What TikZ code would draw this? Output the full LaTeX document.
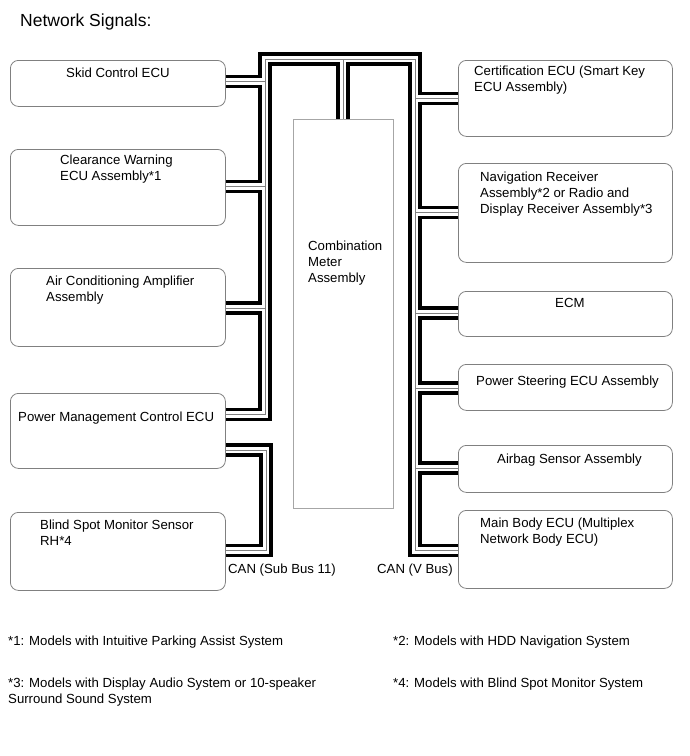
\documentclass[tikz,border=0pt]{standalone}
\usepackage{fontspec}
\setmainfont{Liberation Sans}
\usepackage{tikz}

\tikzset{
  ecu/.style={draw=gray, rounded corners=8pt, line width=0.8pt, anchor=north west, inner sep=0pt},
  lbl/.style={anchor=base west, inner sep=0pt, font=\fontsize{13.2}{16}\selectfont, align=left},
}

\begin{document}
\begin{tikzpicture}[x=1pt,y=-1pt]
    \useasboundingbox (0,0) rectangle (689,756);
    \node[lbl, font=\fontsize{17.5}{20}\selectfont] (title) at (20,26) {Network Signals:};
    % left column
    \node[ecu, minimum width=215pt, minimum height=46pt] (skid) at (10,60) {};
    \node[ecu, minimum width=215pt, minimum height=76pt] (clear) at (10,149) {};
    \node[ecu, minimum width=215pt, minimum height=78pt] (aircon) at (10,268) {};
    \node[ecu, minimum width=215pt, minimum height=75pt] (pmecu) at (10,393) {};
    \node[ecu, minimum width=215pt, minimum height=78pt] (bsm) at (10,512) {};
    % right column
    \node[ecu, minimum width=214pt, minimum height=76pt] (cert) at (458,60) {};
    \node[ecu, minimum width=214pt, minimum height=99pt] (navi) at (458,163) {};
    \node[ecu, minimum width=214pt, minimum height=45pt] (ecm) at (458,291) {};
    \node[ecu, minimum width=214pt, minimum height=46pt] (psecu) at (458,364) {};
    \node[ecu, minimum width=214pt, minimum height=47pt] (airbag) at (458,445) {};
    \node[ecu, minimum width=214pt, minimum height=78pt] (mainbody) at (458,510) {};
    % meter
    \node[draw=gray!70, line width=0.8pt, anchor=north west, minimum width=100pt, minimum height=389pt, inner sep=0pt] (meter) at (293,119) {};

    \coordinate (tl) at (265,59);
    \coordinate (tr) at (415,59);
    \coordinate (tm) at (343,59);
    \coordinate (j-skid) at (265,81.5);
    \coordinate (j-clear) at (265,186.5);
    \coordinate (j-air) at (265,308);
    \coordinate (j-pm) at (265,414.5);
    \coordinate (u-top) at (266,450);
    \coordinate (u-bot) at (266,550.5);
    \coordinate (j-cert) at (415,98.5);
    \coordinate (j-navi) at (415,212.5);
    \coordinate (j-ecm) at (415,313);
    \coordinate (j-ps) at (415,388);
    \coordinate (j-bag) at (415,468);
    \coordinate (j-main) at (415,550.5);

    % CAN bus lines: black, white inside, thin grey core
    \foreach \w/\c in {13.5/black, 6.5/white, 1/gray}{
        \draw[line width=\w pt, \c, line join=miter]
            (j-pm -| pmecu.east) -- (j-pm) -- (tl) -- (tr) -- (j-main) -- (j-main -| mainbody.west)
            (tm) -- (tm |- meter.north)
            (j-skid -| skid.east) -- (j-skid)
            (j-clear -| clear.east) -- (j-clear)
            (j-air -| aircon.east) -- (j-air)
            (j-cert) -- (j-cert -| cert.west)
            (j-navi) -- (j-navi -| navi.west)
            (j-ecm) -- (j-ecm -| ecm.west)
            (j-ps) -- (j-ps -| psecu.west)
            (j-bag) -- (j-bag -| airbag.west)
            (u-top -| pmecu.east) -- (u-top) -- (u-bot) -- (u-bot -| bsm.east);
    }

    % texts (base = last line)
    \node[lbl] (skid-t) at (66,77) {Skid Control ECU};
    \node[lbl] (clear-t) at (60,180) {Clearance Warning\\ECU Assembly*1};
    \node[lbl] (aircon-t) at (46,301) {Air Conditioning Amplifier\\Assembly};
    \node[lbl] (pmecu-t) at (18,421) {Power Management Control ECU};
    \node[lbl] (bsm-t) at (40,545) {Blind Spot Monitor Sensor\\RH*4};
    \node[lbl] (cert-t) at (474,91) {Certification ECU (Smart Key\\ECU Assembly)};
    \node[lbl] (navi-t) at (480,213) {Navigation Receiver\\Assembly*2 or Radio and\\Display Receiver Assembly*3};
    \node[lbl] (ecm-t) at (555,307) {ECM};
    \node[lbl] (psecu-t) at (476,385) {Power Steering ECU Assembly};
    \node[lbl] (airbag-t) at (497,463) {Airbag Sensor Assembly};
    \node[lbl] (mainbody-t) at (480,543) {Main Body ECU (Multiplex\\Network Body ECU)};
    \node[lbl] (meter-t) at (308,282) {Combination\\Meter\\Assembly};
    \node[lbl] (sub-t) at (228,573) {CAN (Sub Bus 11)};
    \node[lbl] (vbus-t) at (377,573) {CAN (V Bus)};

    \node[lbl] (note1) at (8,645) {*1: Models with Intuitive Parking Assist System};
    \node[lbl] (note2) at (393,645) {*2: Models with HDD Navigation System};
    \node[lbl] (note3) at (8,703) {*3: Models with Display Audio System or 10-speaker\\Surround Sound System};
    \node[lbl] (note4) at (393,687) {*4: Models with Blind Spot Monitor System};
\end{tikzpicture}
\end{document}
